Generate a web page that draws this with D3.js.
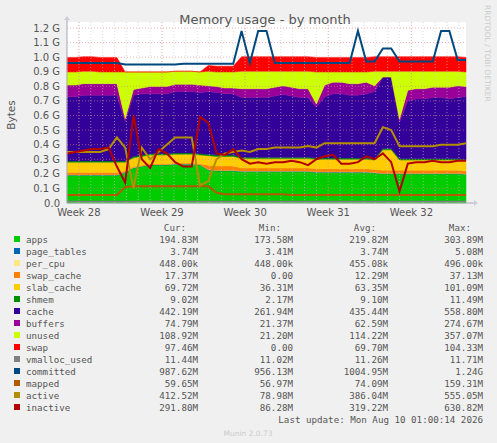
<!DOCTYPE html>
<html><head><meta charset="utf-8">
<script src="https://cdn.jsdelivr.net/npm/d3@7"></script>
<style>body{margin:0;background:#f0f0f0}svg{display:block}</style>
</head><body><svg id="c" width="497" height="443"></svg>
<script>
// sample index i -> day i*0.7
const apps=[0.19,0.19,0.19,0.19,0.19,0.19,0.19,0.21,0.24,0.25,0.26,0.26,0.26,0.265,0.265,0.265,0.26,0.225,0.22,0.22,0.22,0.215,0.215,0.215,0.215,0.215,0.215,0.215,0.215,0.215,0.21,0.21,0.21,0.21,0.21,0.21,0.21,0.205,0.2,0.2,0.2,0.2,0.2,0.2,0.2,0.2,0.2,0.2,0.195];
const page_tables=[0.004,0.004,0.004,0.004,0.004,0.004,0.004,0.004,0.004,0.004,0.004,0.004,0.004,0.004,0.004,0.004,0.004,0.004,0.004,0.004,0.004,0.004,0.004,0.004,0.004,0.004,0.004,0.004,0.004,0.004,0.004,0.004,0.004,0.004,0.004,0.004,0.004,0.004,0.004,0.004,0.004,0.004,0.004,0.004,0.004,0.004,0.004,0.004,0.004];
const per_cpu=[0.00045,0.00045,0.00045,0.00045,0.00045,0.00045,0.00045,0.00045,0.00045,0.00045,0.00045,0.00045,0.00045,0.00045,0.00045,0.00045,0.00045,0.00045,0.00045,0.00045,0.00045,0.00045,0.00045,0.00045,0.00045,0.00045,0.00045,0.00045,0.00045,0.00045,0.00045,0.00045,0.00045,0.00045,0.00045,0.00045,0.00045,0.00045,0.00045,0.00045,0.00045,0.00045,0.00045,0.00045,0.00045,0.00045,0.00045,0.00045,0.00045];
const swap_cache=[0.015,0.015,0.015,0.015,0.015,0.015,0.015,0.005,0.005,0.005,0.005,0.005,0.005,0.005,0.005,0.005,0.005,0.03,0.03,0.03,0.03,0.02,0.02,0.02,0.02,0.02,0.02,0.02,0.02,0.02,0.02,0.02,0.02,0.02,0.02,0.02,0.02,0.02,0.02,0.02,0.02,0.02,0.02,0.02,0.02,0.02,0.02,0.02,0.02];
const slab_cache=[0.07,0.07,0.07,0.07,0.07,0.07,0.07,0.06,0.06,0.06,0.06,0.06,0.06,0.06,0.06,0.06,0.06,0.065,0.065,0.065,0.065,0.065,0.065,0.065,0.065,0.065,0.065,0.065,0.065,0.065,0.065,0.065,0.065,0.065,0.065,0.065,0.065,0.065,0.14,0.14,0.07,0.07,0.07,0.07,0.07,0.07,0.07,0.07,0.07];
const shmem=[0.009,0.009,0.009,0.009,0.009,0.009,0.009,0.009,0.009,0.009,0.009,0.009,0.009,0.009,0.009,0.009,0.009,0.009,0.009,0.009,0.009,0.009,0.009,0.009,0.009,0.009,0.009,0.009,0.009,0.009,0.009,0.009,0.009,0.009,0.009,0.009,0.009,0.009,0.009,0.009,0.009,0.009,0.009,0.009,0.009,0.009,0.009,0.009,0.009];
const cache=[0.44,0.44,0.45,0.45,0.45,0.45,0.45,0.27,0.42,0.42,0.41,0.41,0.41,0.42,0.42,0.42,0.42,0.43,0.43,0.42,0.42,0.41,0.41,0.41,0.41,0.42,0.43,0.42,0.41,0.41,0.35,0.42,0.44,0.44,0.43,0.43,0.44,0.46,0.49,0.49,0.25,0.4,0.41,0.41,0.42,0.42,0.41,0.42,0.43];
const buffers=[0.08,0.08,0.08,0.08,0.08,0.08,0.08,0.02,0.04,0.04,0.05,0.05,0.05,0.05,0.05,0.05,0.05,0.04,0.04,0.04,0.04,0.06,0.06,0.06,0.06,0.06,0.06,0.06,0.06,0.06,0.02,0.08,0.08,0.08,0.08,0.08,0.08,0.04,0.0,0.0,0.02,0.07,0.07,0.07,0.07,0.07,0.08,0.08,0.07];
const unused=[0.09,0.09,0.085,0.085,0.08,0.08,0.08,0.32,0.12,0.11,0.1,0.1,0.1,0.09,0.09,0.09,0.09,0.1,0.1,0.11,0.11,0.12,0.12,0.12,0.12,0.11,0.1,0.11,0.12,0.12,0.22,0.09,0.07,0.07,0.08,0.08,0.07,0.1,0.04,0.04,0.33,0.13,0.12,0.12,0.11,0.11,0.11,0.1,0.1];
const swap=[0.1,0.1,0.1,0.1,0.1,0.1,0.1,0,0,0,0,0,0,0,0,0,0,0.04,0.04,0.04,0.04,0.1,0.1,0.1,0.1,0.1,0.1,0.1,0.1,0.1,0.1,0.1,0.1,0.1,0.1,0.1,0.1,0.1,0.1,0.1,0.1,0.1,0.1,0.1,0.1,0.1,0.1,0.1,0.1];
const vmalloc_used=[0.011,0.011,0.011,0.011,0.011,0.011,0.011,0.011,0.011,0.011,0.011,0.011,0.011,0.011,0.011,0.011,0.011,0.011,0.011,0.011,0.011,0.011,0.011,0.011,0.011,0.011,0.011,0.011,0.011,0.011,0.011,0.011,0.011,0.011,0.011,0.011,0.011,0.011,0.011,0.011,0.011,0.011,0.011,0.011,0.011,0.011,0.011,0.011,0.011];
const committed=[0.96,0.96,0.96,0.96,0.96,0.96,0.96,0.95,0.95,0.95,0.95,0.95,0.95,0.95,0.955,0.955,0.955,0.955,0.955,0.955,0.955,1.18,0.96,1.18,1.18,0.96,0.96,0.96,0.96,0.96,0.96,0.96,0.96,0.96,0.96,1.18,0.97,0.97,1.06,1.06,0.97,0.97,0.97,0.97,0.97,1.18,1.18,0.98,0.98];
const mapped=[0.055,0.055,0.055,0.055,0.055,0.055,0.055,0.11,0.115,0.115,0.115,0.115,0.115,0.115,0.115,0.115,0.115,0.115,0.07,0.06,0.06,0.06,0.06,0.06,0.06,0.06,0.06,0.055,0.055,0.055,0.055,0.055,0.055,0.055,0.055,0.055,0.055,0.055,0.055,0.055,0.055,0.055,0.055,0.055,0.055,0.055,0.055,0.055,0.055];
const active=[0.35,0.35,0.35,0.35,0.35,0.37,0.45,0.38,0.1,0.38,0.3,0.35,0.4,0.45,0.45,0.45,0.12,0.15,0.3,0.34,0.35,0.36,0.35,0.37,0.37,0.38,0.38,0.38,0.38,0.39,0.38,0.41,0.41,0.41,0.41,0.41,0.41,0.41,0.52,0.5,0.39,0.39,0.39,0.39,0.39,0.4,0.4,0.4,0.41];
const inactive=[0.34,0.35,0.36,0.37,0.37,0.38,0.25,0.14,0.6,0.3,0.24,0.37,0.34,0.28,0.25,0.25,0.59,0.55,0.34,0.33,0.37,0.3,0.27,0.28,0.27,0.28,0.28,0.29,0.28,0.26,0.3,0.32,0.33,0.27,0.27,0.28,0.32,0.3,0.34,0.28,0.08,0.27,0.28,0.28,0.29,0.28,0.28,0.29,0.29];
const yTicks=[0,0.1,0.2,0.3,0.4,0.5,0.6,0.7,0.8,0.9,1.0,1.1,1.2];
const weekDays=[1,8,15,22,29];
const weekLabels=["Week 28","Week 29","Week 30","Week 31","Week 32"];
const names=["apps","page_tables","per_cpu","swap_cache","slab_cache","shmem","cache","buffers","unused","swap","vmalloc_used","committed","mapped","active","inactive"];
const colors=["#00cc00","#0066b3","#ffe680","#ff8000","#ffcc00","#008f00","#330099","#990099","#ccff00","#ff0000","#808080","#00487d","#b35a00","#b38f00","#b30000"];
const cur=["194.83M","3.74M","448.00k","17.37M","69.72M","9.02M","442.19M","74.79M","108.92M","97.46M","11.44M","987.62M","59.65M","412.52M","291.80M"];
const mins=["173.58M","3.41M","448.00k","0.00","36.31M","2.17M","261.94M","21.37M","21.20M","0.00","11.02M","956.13M","56.97M","78.98M","86.28M"];
const avgs=["219.82M","3.74M","455.08k","12.29M","63.35M","9.10M","435.44M","62.59M","114.22M","69.70M","11.26M","1004.95M","74.09M","386.04M","319.22M"];
const maxs=["303.89M","5.08M","496.00k","37.13M","101.09M","11.49M","558.80M","274.67M","357.07M","104.33M","11.71M","1.24G","159.31M","555.05M","630.82M"];

const svg=d3.select("#c");
const L=67,R=466,T=28,B=203;
const x=d3.scaleLinear().domain([0,33.6]).range([L,R]);
const y=d3.scaleLinear().domain([0,1.2]).range([B,T]);
svg.append("rect").attr("x",L).attr("y",T-6).attr("width",R-L).attr("height",B-T+6).attr("fill","#fff");
const stackKeys=names.slice(0,10);
const arrs={apps,page_tables,per_cpu,swap_cache,slab_cache,shmem,cache,buffers,unused,swap,vmalloc_used,committed,mapped,active,inactive};
const rows=apps.map((_,i)=>{const o={d:i*0.7};names.forEach(n=>o[n]=arrs[n][i]);return o;});
const st=d3.stack().keys(stackKeys)(rows);
const area=d3.area().x(d=>x(d.data.d)).y0(d=>y(d[0])).y1(d=>y(d[1]));
st.forEach((s,k)=>svg.append("path").datum(s).attr("d",area).attr("fill",colors[k]).attr("stroke",colors[k]).attr("stroke-width",0.5));
// grid over areas
const g=svg.append("g").attr("opacity",0.6);
for(let d=0;d<=33.6;d+=1){g.append("line").attr("x1",x(d)).attr("x2",x(d)).attr("y1",T-6).attr("y2",B).attr("stroke","#ccc").attr("stroke-dasharray","1,2");}
weekDays.forEach(d=>g.append("line").attr("x1",x(d)).attr("x2",x(d)).attr("y1",T-6).attr("y2",B).attr("stroke","#e08080").attr("stroke-dasharray","1,2"));
yTicks.forEach(v=>g.append("line").attr("x1",L).attr("x2",R).attr("y1",y(v)).attr("y2",y(v)).attr("stroke","#e08080").attr("stroke-dasharray","1,2"));
const lw={vmalloc_used:1.2,committed:2,mapped:2,active:2,inactive:2};
names.slice(10).forEach((n,k)=>{
  const line=d3.line().x(d=>x(d.d)).y(d=>y(d[n]));
  svg.append("path").datum(rows).attr("d",line).attr("fill","none").attr("stroke",colors[10+k]).attr("stroke-width",lw[n]);
});
// axes
svg.append("line").attr("x1",L).attr("x2",R+8).attr("y1",B).attr("y2",B).attr("stroke","#aab").attr("stroke-width",1);
svg.append("line").attr("x1",L).attr("x2",L).attr("y1",B).attr("y2",T-8).attr("stroke","#aab");
svg.append("path").attr("d",`M${R+8},${B-3}L${R+12},${B}L${R+8},${B+3}Z`).attr("fill","#ccd");
svg.append("path").attr("d",`M${L-3},${T-8}L${L},${T-12}L${L+3},${T-8}Z`).attr("fill","#ccd");
const f="DejaVu Sans";
yTicks.forEach(v=>svg.append("text").attr("x",L-7).attr("y",y(v)+3.5).attr("text-anchor","end").attr("font-family",f).attr("font-size",10).attr("fill","#555").text(v===0?"0.0":v.toFixed(1)+" G"));
weekDays.forEach((d,i)=>svg.append("text").attr("x",x(d)).attr("y",216).attr("text-anchor","middle").attr("font-family",f).attr("font-size",10).attr("fill","#555").text(weekLabels[i]));
svg.append("text").attr("x",265).attr("y",24).attr("text-anchor","middle").attr("font-family",f).attr("font-size",13).attr("fill","#555").text("Memory usage - by month");
svg.append("text").attr("transform","translate(15,115) rotate(-90)").attr("text-anchor","middle").attr("font-family",f).attr("font-size",10.5).attr("fill","#555").text("Bytes");
svg.append("text").attr("transform","translate(485,5) rotate(90)").attr("text-anchor","start").attr("font-family",f).attr("font-size",7.5).attr("fill","#ccc").text("RRDTOOL / TOBI OETIKER");
const mf="DejaVu Sans Mono",fs=9.2;
const cols=[198,293,388,483];
["Cur:","Min:","Avg:","Max:"].forEach((h,j)=>svg.append("text").attr("x",cols[j]-12).attr("y",231).attr("text-anchor","end").attr("font-family",mf).attr("font-size",fs).attr("fill","#555").text(h));
names.forEach((n,i)=>{
  const yy=243+i*12;
  svg.append("rect").attr("x",14).attr("y",yy-7).attr("width",6).attr("height",6).attr("fill",colors[i]);
  svg.append("text").attr("x",26).attr("y",yy).attr("font-family",mf).attr("font-size",fs).attr("fill","#555").text(n);
  [cur,mins,avgs,maxs].forEach((a,j)=>svg.append("text").attr("x",cols[j]).attr("y",yy).attr("text-anchor","end").attr("font-family",mf).attr("font-size",fs).attr("fill","#555").text(a[i]));
});
svg.append("text").attr("x",483).attr("y",423).attr("text-anchor","end").attr("font-family",mf).attr("font-size",fs).attr("fill","#555").text("Last update: Mon Aug 10 01:00:14 2026");
svg.append("text").attr("x",248).attr("y",436).attr("text-anchor","middle").attr("font-family",f).attr("font-size",7.5).attr("fill","#ccc").text("Munin 2.0.73");
</script></body></html>
